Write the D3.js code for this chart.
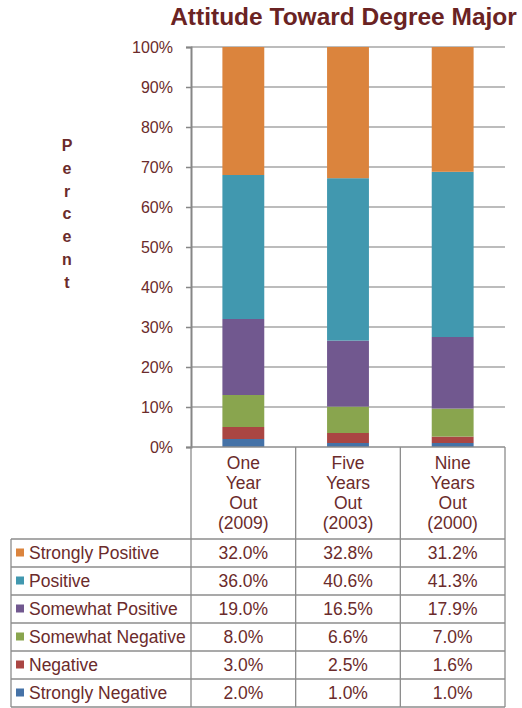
<!DOCTYPE html>
<html>
<head>
<meta charset="utf-8">
<script src="https://cdn.jsdelivr.net/npm/d3@7"></script>
<style>
  body { margin: 0; background: #fff; }
  text { font-family: Arial, "Liberation Sans", sans-serif; fill: #6b2b2b; }
</style>
</head>
<body>
<div id="chart"></div>
<script>
// Data =========================
let categories = [
  ["One", "Year", "Out", "(2009)"],
  ["Five", "Years", "Out", "(2003)"],
  ["Nine", "Years", "Out", "(2000)"]
];
let seriesNames = ["Strongly Positive", "Positive", "Somewhat Positive", "Somewhat Negative", "Negative", "Strongly Negative"];
let stronglyPositive = [32.0, 32.8, 31.2];
let positive = [36.0, 40.6, 41.3];
let somewhatPositive = [19.0, 16.5, 17.9];
let somewhatNegative = [8.0, 6.6, 7.0];
let negative = [3.0, 2.5, 1.6];
let stronglyNegative = [2.0, 1.0, 1.0];
let yTicks = [0, 0.1, 0.2, 0.3, 0.4, 0.5, 0.6, 0.7, 0.8, 0.9, 1.0];

let seriesValues = [stronglyPositive, positive, somewhatPositive, somewhatNegative, negative, stronglyNegative];
let colors = ["#db843d", "#4198af", "#71588f", "#89a54e", "#aa4643", "#4572a7"];

// Layout =======================
let svgWidth = 522, svgHeight = 708;
let plot = { left: 191, right: 505, top: 47, bottom: 447 };
let tableLeft = 11, rowH = 28, headerBottom = 539;
let gridColor = "#a6a6a6", axisColor = "#868686";

let svg = d3.select("#chart").append("svg").attr("width", svgWidth).attr("height", svgHeight);

let x = d3.scaleBand().domain(d3.range(categories.length)).range([plot.left, plot.right]).padding(0);
let y = d3.scaleLinear().domain([0, 1]).range([plot.bottom, plot.top]);
let barW = x.bandwidth() * 0.4;

// Title
svg.append("text")
  .attr("x", 343.5).attr("y", 25)
  .attr("text-anchor", "middle")
  .style("font-size", "24.5px").style("font-weight", "bold")
  .style("fill", "#6a2323")
  .text("Attitude Toward Degree Major");

// Y label, stacked letters
svg.append("g").selectAll("text")
  .data("Percent".split(""))
  .enter().append("text")
  .attr("x", 67).attr("y", (d, i) => 151 + i * 22.8)
  .attr("text-anchor", "middle")
  .style("font-size", "16px").style("font-weight", "bold")
  .text(d => d);

// Gridlines
svg.append("g").selectAll("line")
  .data(yTicks.slice(1))
  .enter().append("line")
  .attr("x1", plot.left).attr("x2", plot.right)
  .attr("y1", d => y(d)).attr("y2", d => y(d))
  .attr("stroke", gridColor).attr("stroke-width", 1.5);

// Stacked bars (bottom: Strongly Negative ... top: Strongly Positive)
let rows = categories.map((c, i) => {
  let r = { i: i };
  seriesNames.forEach((s, k) => r[s] = seriesValues[k][i] / 100);
  return r;
});
let stack = d3.stack().keys(seriesNames.slice().reverse());
let stacked = stack(rows);

svg.append("g").selectAll("g")
  .data(stacked)
  .enter().append("g")
  .attr("fill", d => colors[seriesNames.indexOf(d.key)])
  .selectAll("rect")
  .data(d => d)
  .enter().append("rect")
  .attr("x", d => x(d.data.i) + (x.bandwidth() - barW) / 2)
  .attr("width", barW)
  .attr("y", d => y(d[1]))
  .attr("height", d => y(d[0]) - y(d[1]));

// Y axis
let yAxis = svg.append("g")
  .attr("transform", `translate(${plot.left},0)`)
  .call(d3.axisLeft(y).tickValues(yTicks).tickFormat(d3.format(".0%")).tickSize(5).tickPadding(13));
yAxis.select(".domain").attr("stroke", axisColor).attr("stroke-width", 2);
yAxis.selectAll(".tick line").attr("stroke", axisColor).attr("stroke-width", 1.5);
yAxis.selectAll(".tick text").style("font-size", "16px").style("font-family", "Arial, 'Liberation Sans', sans-serif").attr("fill", "#6b2b2b");

// Data table ===================
let table = svg.append("g");
let tableBottom = headerBottom + rowH * seriesNames.length;
let line = (x1, y1, x2, y2) => table.append("line")
  .attr("x1", x1).attr("y1", y1).attr("x2", x2).attr("y2", y2)
  .attr("stroke", "#8c8c8c").attr("stroke-width", 1.3);

// header cells
line(plot.left, plot.bottom, plot.right, plot.bottom);
[plot.left, ...categories.map((c, i) => x(i) + x.bandwidth())].forEach(xx => line(xx, plot.bottom, xx, tableBottom));
line(tableLeft, headerBottom, tableLeft, tableBottom);
d3.range(seriesNames.length + 1).forEach(k => line(tableLeft, headerBottom + k * rowH, plot.right, headerBottom + k * rowH));

// category labels
categories.forEach((lines, i) => {
  table.append("g").selectAll("text")
    .data(lines)
    .enter().append("text")
    .attr("x", x(i) + x.bandwidth() / 2)
    .attr("y", (d, j) => 469 + j * 20)
    .attr("text-anchor", "middle")
    .style("font-size", "17.5px")
    .text(d => d);
});

// legend + values
seriesNames.forEach((s, k) => {
  let cy = headerBottom + k * rowH + rowH / 2;
  table.append("rect")
    .attr("x", 16).attr("y", cy - 4.5).attr("width", 8).attr("height", 8)
    .attr("fill", colors[k]);
  table.append("text")
    .attr("x", 29).attr("y", cy + 6)
    .style("font-size", "17.5px")
    .text(s);
  seriesValues[k].forEach((v, i) => {
    table.append("text")
      .attr("x", x(i) + x.bandwidth() / 2).attr("y", cy + 6)
      .attr("text-anchor", "middle")
      .style("font-size", "17.5px")
      .text(d3.format(".1f")(v) + "%");
  });
});
</script>
</body>
</html>
